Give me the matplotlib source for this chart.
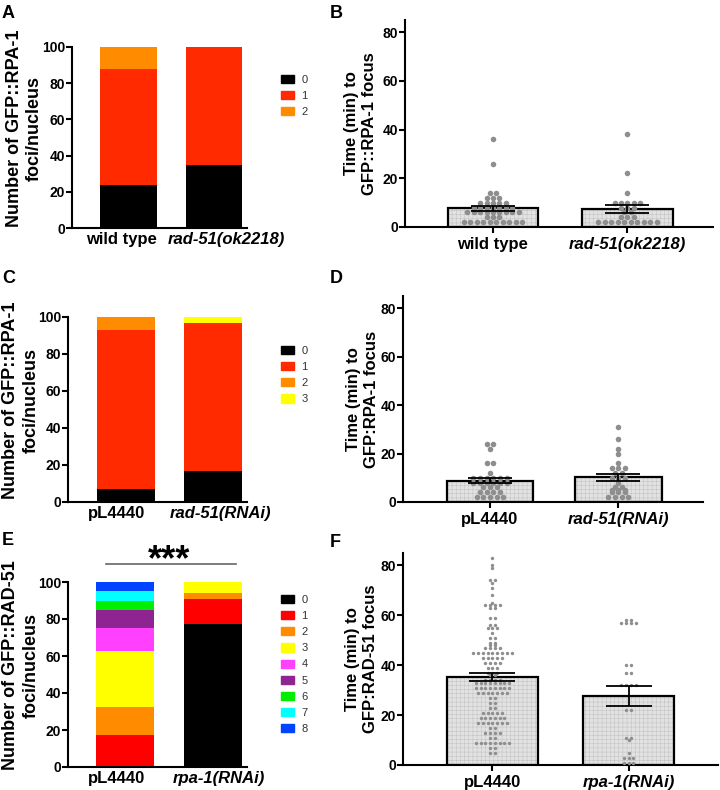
import numpy as np
import matplotlib.pyplot as plt
from matplotlib.patches import Patch

plt.rcParams['font.family'] = ['Liberation Sans', 'DejaVu Sans']
plt.rcParams['font.weight'] = 'bold'
plt.rcParams['axes.labelweight'] = 'bold'
plt.rcParams['axes.linewidth'] = 1.5
plt.rcParams['hatch.linewidth'] = 0.4

# --- data: stacked bars (percent of nuclei per foci number) ---
a_groups = ['wild type', 'rad-51(ok2218)']
a_labels = ['0', '1', '2']
a_pct = [[24, 64, 12], [35, 65, 0]]

c_groups = ['pL4440', 'rad-51(RNAi)']
c_labels = ['0', '1', '2', '3']
c_pct = [[7, 86, 7, 0], [17, 79.5, 0, 3.5]]

e_groups = ['pL4440', 'rpa-1(RNAi)']
e_labels = ['0', '1', '2', '3', '4', '5', '6', '7', '8']
e_pct = [[0, 17.5, 15, 30, 12.5, 10, 5, 5, 5],
         [77.5, 13.5, 3.3, 5.7, 0, 0, 0, 0, 0]]

# --- data: time to focus (min), value / number of dots ---
b_groups = ['wild type', 'rad-51(ok2218)']
b_wt_vals = [36, 26, 14, 12, 10, 8, 6, 4, 2]
b_wt_counts = [1, 1, 2, 3, 5, 7, 9, 3, 10]
b_mut_vals = [38, 22, 14, 10, 8, 6, 4, 2]
b_mut_counts = [1, 1, 1, 5, 3, 2, 3, 10]

d_groups = ['pL4440', 'rad-51(RNAi)']
d_ctl_vals = [24, 22, 16, 12, 10, 8, 6, 4, 2]
d_ctl_counts = [2, 1, 2, 1, 6, 6, 3, 4, 5]
d_rnai_vals = [31, 26, 22, 20, 16, 14, 12, 10, 8, 6, 5, 4, 2]
d_rnai_counts = [1, 1, 1, 1, 1, 3, 2, 3, 1, 2, 3, 3, 4]

f_groups = ['pL4440', 'rpa-1(RNAi)']
f_ctl_vals = [83, 80, 79, 74, 73, 71, 68, 65, 64, 63, 59, 56, 55, 53, 51, 49,
              48, 47, 45, 43, 41, 39, 37, 36, 34, 33, 31, 29, 27, 25, 23, 21,
              19, 17, 15, 13, 11, 9, 7, 5]
f_ctl_counts = [1, 1, 1, 2, 1, 1, 1, 1, 4, 2, 2, 2, 3, 1, 2, 2,
                2, 4, 9, 5, 4, 3, 3, 2, 4, 8, 8, 7, 2, 2, 2, 5,
                6, 7, 2, 4, 2, 8, 2, 2]
f_rnai_vals = [58, 57, 40, 37, 32, 22, 11, 10, 5, 3, 1]
f_rnai_counts = [2, 4, 2, 2, 4, 2, 2, 1, 1, 3, 3]

col_ac = ['#000000', '#ff2a00', '#ff8c00', '#ffff00']
col_e = ['#000000', '#ff0000', '#ff8c00', '#ffff00', '#ff40ff',
         '#8e2392', '#00ee00', '#00ffff', '#0044ff']

fig = plt.figure(figsize=(7.2, 7.9), dpi=100)


def style(ax, groups, xticklen, ticks=(0, 1)):
    ax.spines['top'].set_visible(False)
    ax.spines['right'].set_visible(False)
    ax.set_xticks(ticks)
    ax.set_xticklabels(groups, fontsize=12)
    ax.get_xticklabels()[1].set_fontstyle('italic')
    ax.tick_params(axis='x', length=xticklen, width=1.5, pad=3)
    ax.tick_params(axis='y', length=4, width=1.5, pad=0.8)


def stacked(rect, groups, pct, labels, colors, ylab, leg_top, labx, ticks):
    ax = fig.add_axes(rect)
    pct = np.array(pct)
    bottom = np.zeros(len(groups))
    for k in range(pct.shape[1]):
        ax.bar([0, 1], pct[:, k], 0.66, bottom=bottom, color=colors[k],
               label=labels[k], linewidth=0)
        bottom += pct[:, k]
    ax.set_ylim(0, 100)
    ax.set_yticks(range(0, 101, 20))
    ax.tick_params(axis='y', labelsize=10)
    # labels sit slightly apart from the bar centres, as in the original
    style(ax, groups, 0, ticks)
    ax.set_ylabel(ylab, fontsize=13, linespacing=1.25)
    ax.yaxis.set_label_coords(labx, 0.55)
    handles = [Patch(color=c, label=l) for c, l in zip(colors, labels)]
    ax.legend(handles=handles, loc='upper left', frameon=False,
              bbox_to_anchor=(281 / 720, 1 - leg_top / 790),
              bbox_transform=fig.transFigure, borderpad=0, borderaxespad=0,
              prop={'size': 8, 'weight': 'normal'}, labelcolor='#333333',
              handlelength=1.15, handleheight=0.75, handletextpad=0.7,
              labelspacing=0.55)
    return ax


def dots(rect, groups, data, step, size, cap, ylab, labx):
    ax = fig.add_axes(rect)
    for i, (vals, counts) in enumerate(data):
        pts = np.repeat(vals, counts).astype(float)
        m = pts.mean()
        sem = pts.std(ddof=1) / np.sqrt(len(pts))
        ax.bar(i, m, 0.67, facecolor='#e2e2e2', edgecolor='#c4c4c4',
               hatch='++++', linewidth=0, zorder=1)
        ax.bar(i, m, 0.67, fill=False, edgecolor='black', linewidth=1.6,
               zorder=2)
        xs, ys = [], []
        for v, n in zip(vals, counts):
            off = (np.arange(n) - (n - 1) / 2) * step
            xs += list(i + off)
            ys += [v] * n
        ax.scatter(xs, ys, s=size, color='#8e8e8e', linewidths=0, zorder=3)
        ax.errorbar(i, m, yerr=sem, color='black', capsize=cap, lw=1.3,
                    capthick=1.3, zorder=4)
    ax.set_ylim(0, 85)
    ax.set_yticks(range(0, 81, 20))
    ax.tick_params(axis='y', labelsize=10)
    style(ax, groups, 4)
    ax.set_ylabel(ylab, fontsize=12, linespacing=1.25)
    ax.yaxis.set_label_coords(labx, 0.5)
    return ax


# A
axA = stacked([72 / 720, 1 - 228 / 790, 175 / 720, 181 / 790], a_groups, a_pct,
              a_labels, col_ac, 'Number of GFP::RPA-1\nfoci/nucleus', 75,
              -0.165, (-0.08, 1.15))
axA.set_xlim(-0.66, 1.39)
# C
axC = stacked([68 / 720, 1 - 502 / 790, 179 / 720, 185 / 790], c_groups, c_pct,
              c_labels, col_ac, 'Number of GFP::RPA-1\nfoci/nucleus', 346,
              -0.16, (-0.11, 1.08))
axC.set_xlim(-0.667, 1.39)
# E
axE = stacked([68 / 720, 1 - 767 / 790, 179 / 720, 185 / 790], e_groups, e_pct,
              e_labels, col_e, 'Number of GFP::RAD-51\nfoci/nucleus', 595,
              -0.16, (-0.10, 1.07))
axE.set_xlim(-0.65, 1.39)
axE.plot([-0.22, 1.26], [109.7, 109.7], color='#666666', lw=1.2, clip_on=False)
axE.text(0.5, 106.5, '***', ha='center', va='baseline', fontsize=26,
         clip_on=False)

# B
axB = dots([405 / 720, 1 - 227 / 790, 308 / 720, 207 / 790], b_groups,
           [(b_wt_vals, b_wt_counts), (b_mut_vals, b_mut_counts)],
           0.048, 16, 16, 'Time (min) to\nGFP::RPA-1 focus', -0.09)
axB.set_xlim(-0.654, 1.636)
# D
axD = dots([403 / 720, 1 - 502 / 790, 300 / 720, 206 / 790], d_groups,
           [(d_ctl_vals, d_ctl_counts), (d_rnai_vals, d_rnai_counts)],
           0.052, 16, 16, 'Time (min) to\nGFP:RPA-1 focus', -0.08)
axD.set_xlim(-0.677, 1.658)
# F
axF = dots([403 / 720, 1 - 765 / 790, 315 / 720, 212 / 790], f_groups,
           [(f_ctl_vals, f_ctl_counts), (f_rnai_vals, f_rnai_counts)],
           0.035, 6, 16.5, 'Time (min) to\nGFP:RAD-51 focus', -0.08)
axF.set_xlim(-0.658, 1.658)

# panel letters
for lab, x, y in [('A', 2, 5), ('B', 330, 5), ('C', 2, 270), ('D', 330, 270),
                  ('E', 2, 532), ('F', 330, 534)]:
    fig.text(x / 720, 1 - y / 790, lab, fontsize=13, va='top', ha='left')

fig.savefig('out.png', dpi=100)
